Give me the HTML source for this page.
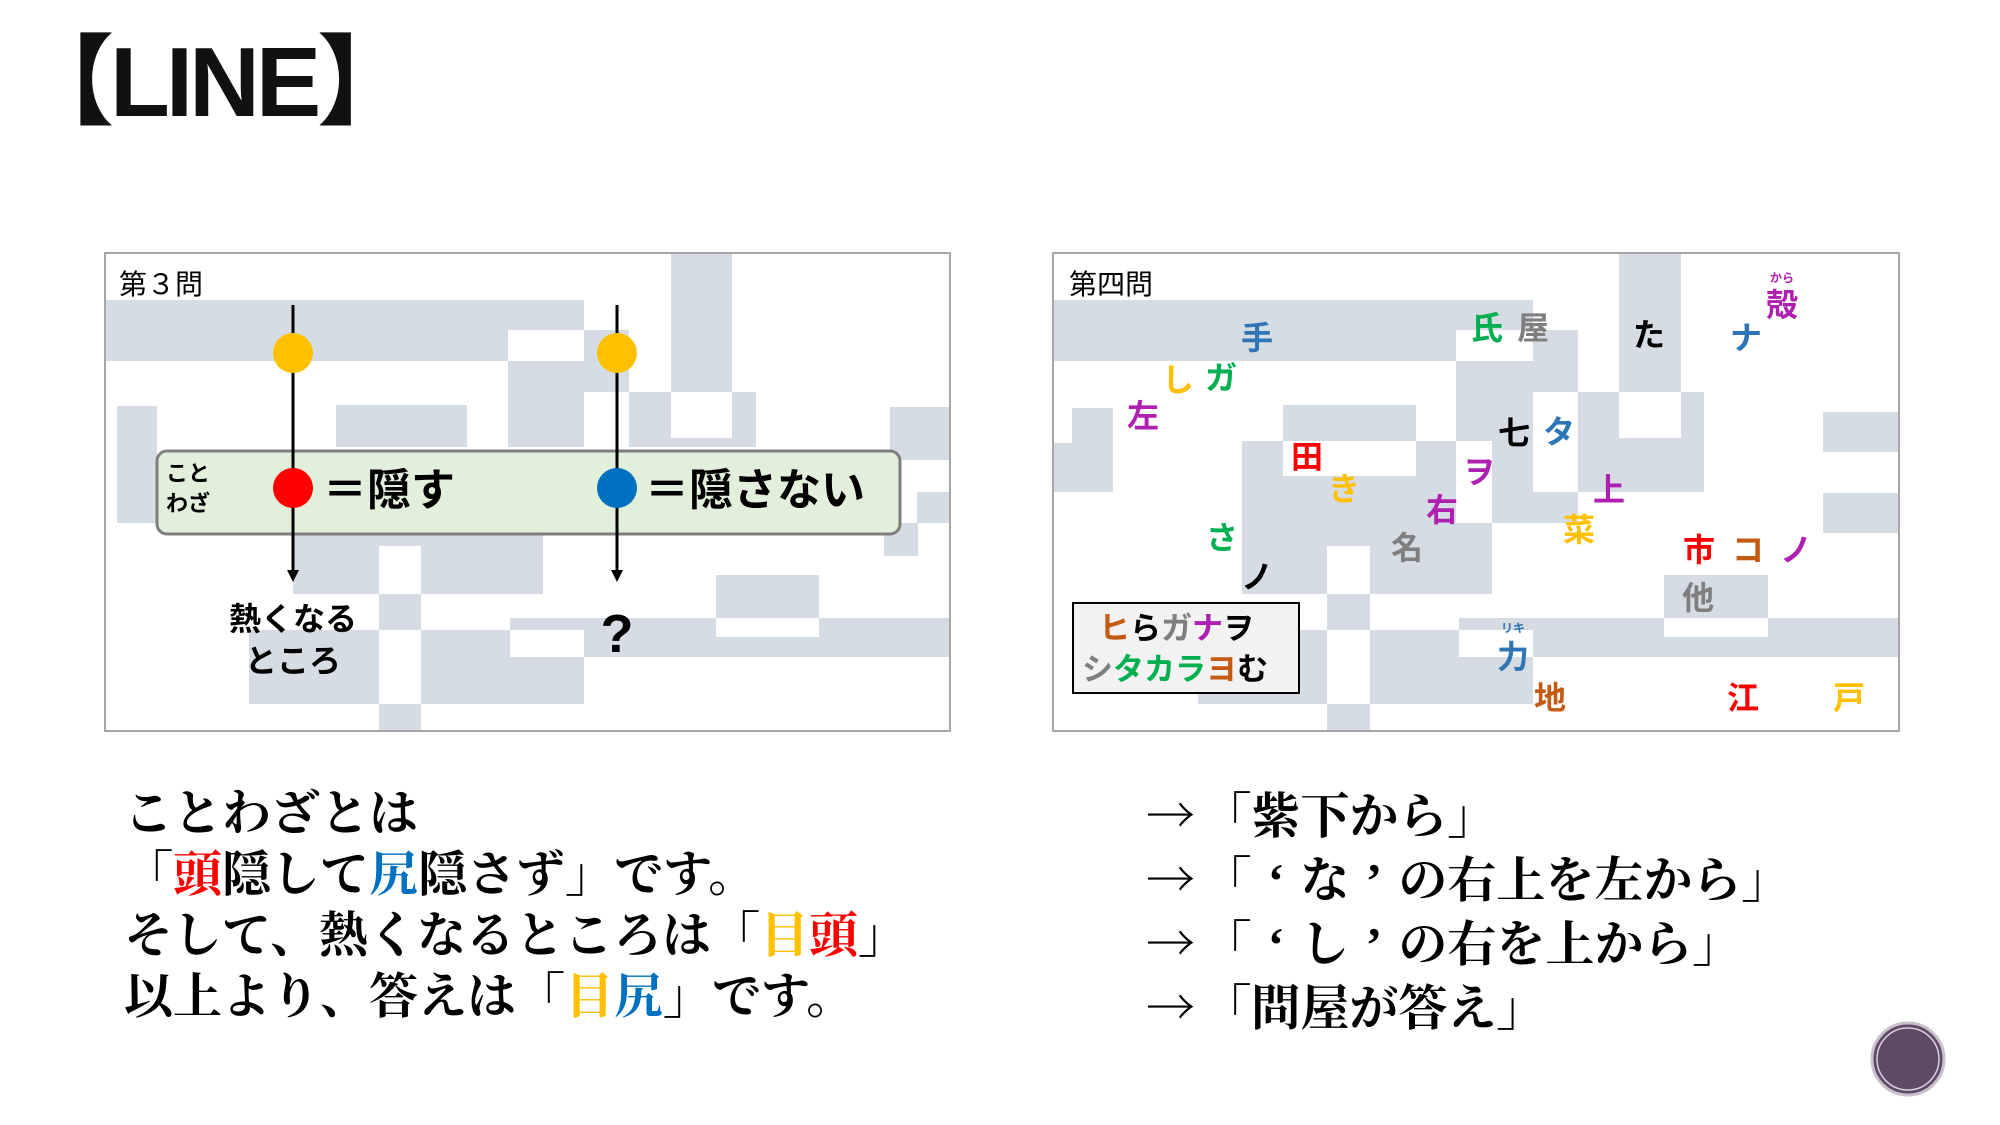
<!DOCTYPE html>
<html><head><meta charset="utf-8"><style>
body{margin:0;width:2000px;height:1125px;background:#fff;overflow:hidden;position:relative;font-family:"Liberation Sans","Noto Sans CJK JP",sans-serif}
.t{position:absolute;font-family:"Liberation Serif","Noto Serif CJK JP",serif;font-weight:700;font-size:49px;line-height:61px;white-space:nowrap;color:#000}
.q{display:inline-block;width:1em;text-align:center}
.a{display:inline-block;width:1.15em;font-family:"Noto Serif CJK JP",serif;font-weight:400}
</style></head><body>
<div style="position:absolute;left:16px;top:22px;font-family:'Liberation Sans','Noto Sans CJK JP',sans-serif;font-weight:900;font-size:98px;line-height:120px;letter-spacing:-4px;color:#111">【LINE】</div>

<svg width="2000" height="1125" style="position:absolute;left:0;top:0" font-family="Liberation Sans, Noto Sans CJK JP, sans-serif">
<g fill="#d6dce4">
<!-- left panel -->
<rect x="105" y="300" width="479" height="61"/>
<rect x="584" y="330" width="45" height="62"/>
<rect x="508" y="361" width="76" height="86"/>
<rect x="629" y="392" width="127" height="55"/>
<rect x="671" y="254" width="61" height="138"/>
<rect x="117" y="406" width="40" height="117"/>
<rect x="336" y="405" width="131" height="42"/>
<rect x="890" y="407" width="60" height="53"/>
<rect x="917" y="492" width="33" height="31"/>
<rect x="884" y="523" width="34" height="33"/>
<rect x="293" y="533" width="250" height="61"/>
<rect x="379" y="594" width="42" height="36"/>
<rect x="249" y="630" width="130" height="74"/>
<rect x="421" y="630" width="163" height="74"/>
<rect x="510" y="618" width="440" height="39"/>
<rect x="716" y="575" width="103" height="43"/>
<rect x="379" y="704" width="42" height="26"/>
<!-- right panel -->
<rect x="1053" y="300" width="480" height="61"/>
<rect x="1533" y="330" width="45" height="62"/>
<rect x="1456" y="361" width="77" height="80"/>
<rect x="1492" y="441" width="41" height="82"/>
<rect x="1533" y="492" width="45" height="31"/>
<rect x="1578" y="392" width="126" height="100"/>
<rect x="1619" y="254" width="62" height="138"/>
<rect x="1053" y="408" width="60" height="84"/>
<rect x="1283" y="405" width="133" height="36"/>
<rect x="1242" y="441" width="214" height="153"/>
<rect x="1456" y="523" width="36" height="71"/>
<rect x="1823" y="412" width="76" height="40"/>
<rect x="1823" y="493" width="76" height="40"/>
<rect x="1664" y="575" width="104" height="43"/>
<rect x="1459" y="618" width="440" height="39"/>
<rect x="1327" y="594" width="43" height="36"/>
<rect x="1198" y="630" width="129" height="74"/>
<rect x="1370" y="630" width="163" height="74"/>
<rect x="1327" y="704" width="43" height="26"/>
</g>
<g fill="#fff">
<rect x="508" y="330" width="76" height="31"/>
<rect x="671" y="392" width="61" height="46"/>
<rect x="379" y="546" width="42" height="48"/>
<rect x="510" y="630" width="74" height="27"/>
<rect x="716" y="618" width="103" height="19"/>
<rect x="1456" y="330" width="77" height="31"/>
<rect x="1619" y="392" width="62" height="46"/>
<rect x="1053" y="408" width="19" height="35"/>
<rect x="1283" y="441" width="133" height="35"/>
<rect x="1327" y="546" width="43" height="48"/>
<rect x="1664" y="618" width="104" height="19"/>
<rect x="1459" y="630" width="74" height="27"/>
</g>
<rect x="105" y="253" width="845" height="478" fill="none" stroke="#a6a6a6" stroke-width="2"/>
<rect x="1053" y="253" width="846" height="478" fill="none" stroke="#a6a6a6" stroke-width="2"/>
<text x="119" y="294" font-size="28">第３問</text>
<text x="1069" y="294" font-size="28">第四問</text>

<!-- left panel content -->
<rect x="157" y="451" width="743" height="83" rx="10" fill="#e2efda" stroke="#7f7f7f" stroke-width="3"/>
<g stroke="#000" stroke-width="3">
<line x1="293" y1="305" x2="293" y2="572"/>
<line x1="617" y1="305" x2="617" y2="572"/>
</g>
<polygon points="287,570 299,570 293,582" fill="#000"/>
<polygon points="611,570 623,570 617,582" fill="#000"/>
<circle cx="293" cy="353" r="20" fill="#ffc000"/>
<circle cx="617" cy="353" r="20" fill="#ffc000"/>
<circle cx="293" cy="488" r="20" fill="#ff0000"/>
<circle cx="617" cy="488" r="20" fill="#0070c0"/>
<g font-weight="700" fill="#000">
<text x="166" y="481" font-size="22">こと</text>
<text x="166" y="511" font-size="22">わざ</text>
<text x="323" y="505" font-size="44">＝隠す</text>
<text x="645" y="505" font-size="44">＝隠さない</text>
<text x="293" y="630" font-size="32" text-anchor="middle">熱くなる</text>
<text x="293" y="672" font-size="32" text-anchor="middle">ところ</text>
<text x="617" y="652" font-size="54" text-anchor="middle">?</text>
</g>

<!-- right panel chars -->
<g font-weight="700" font-size="32" text-anchor="middle" dominant-baseline="central">
<text x="1257" y="338" fill="#2e75b6">手</text>
<text x="1178" y="380" fill="#ffc000">し</text>
<text x="1221" y="378" fill="#00b050">ガ</text>
<text x="1143" y="416" fill="#b020b0">左</text>
<text x="1487" y="328" fill="#00b050">氏</text>
<text x="1533" y="328" fill="#7f7f7f">屋</text>
<text x="1649" y="335" fill="#000">た</text>
<text x="1746" y="338" fill="#2e75b6">ナ</text>
<text x="1782" y="305" fill="#b020b0">殻</text>
<text x="1782" y="278" fill="#b020b0" font-size="12">から</text>
<text x="1514" y="433" fill="#000">七</text>
<text x="1559" y="432" fill="#2e75b6">タ</text>
<text x="1307" y="457" fill="#ff0000">田</text>
<text x="1479" y="472" fill="#b020b0">ヲ</text>
<text x="1344" y="489" fill="#ffc000">き</text>
<text x="1609" y="490" fill="#b020b0">上</text>
<text x="1442" y="510" fill="#b020b0">右</text>
<text x="1579" y="530" fill="#ffc000">菜</text>
<text x="1222" y="538" fill="#00b050">さ</text>
<text x="1407" y="548" fill="#7f7f7f">名</text>
<text x="1699" y="550" fill="#ff0000">市</text>
<text x="1748" y="550" fill="#c55a11">コ</text>
<text x="1796" y="550" fill="#b020b0">ノ</text>
<text x="1257" y="577" fill="#000">ノ</text>
<text x="1698" y="598" fill="#7f7f7f">他</text>
<text x="1513" y="628" fill="#2e75b6" font-size="12">リキ</text>
<text x="1513" y="657" fill="#2e75b6">力</text>
<text x="1550" y="698" fill="#c55a11">地</text>
<text x="1743" y="698" fill="#ff0000">江</text>
<text x="1849" y="698" fill="#ffc000">戸</text>
</g>
<rect x="1073" y="603" width="226" height="90" fill="#f2f2f2" stroke="#000" stroke-width="2"/>
<g font-weight="700" font-size="31">
<text x="1099" y="639"><tspan fill="#c55a11">ヒ</tspan><tspan fill="#000">ら</tspan><tspan fill="#7f7f7f">ガ</tspan><tspan fill="#b020b0">ナ</tspan><tspan fill="#000">ヲ</tspan></text>
<text x="1082" y="680"><tspan fill="#7f7f7f">シ</tspan><tspan fill="#00b050">タカラ</tspan><tspan fill="#c55a11">ヨ</tspan><tspan fill="#000">む</tspan></text>
</g>

<circle cx="1908" cy="1059" r="36" fill="#5e4a66" stroke="#c9c0cc" stroke-width="3"/>
<circle cx="1908" cy="1059" r="31" fill="none" stroke="#d8d0da" stroke-width="1.5"/>
</svg>

<div class="t" style="left:124px;top:783px">ことわざとは<br>「<span style="color:#ff0000">頭</span>隠して<span style="color:#0070c0">尻</span>隠さず」です。<br>そして、熱くなるところは「<span style="color:#ffc000">目</span><span style="color:#ff0000">頭</span>」<br>以上より、答えは「<span style="color:#ffc000">目</span><span style="color:#0070c0">尻</span>」です。</div>
<div class="t" style="left:1146px;top:783px"><span class="a">→</span>「紫下から」<br><span class="a">→</span>「<span class="q">‘</span>な<span class="q">’</span>の右上を左から」<br><span class="a">→</span>「<span class="q">‘</span>し<span class="q">’</span>の右を上から」<br><span class="a">→</span>「問屋が答え」</div>
</body></html>
